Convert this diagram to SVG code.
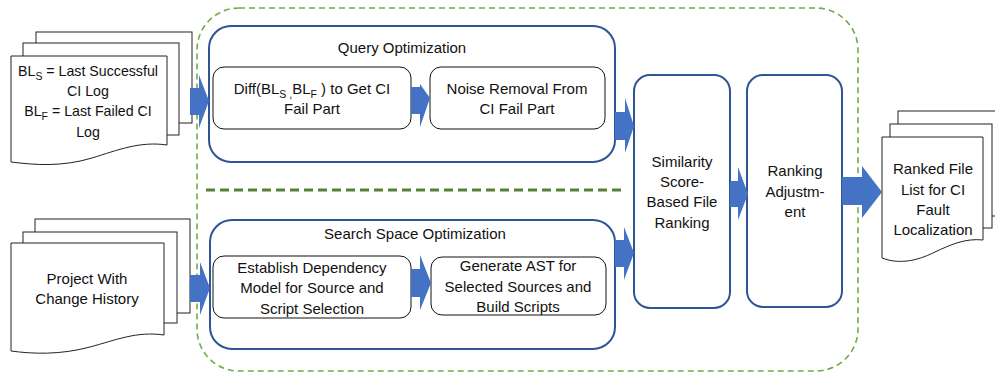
<svg xmlns="http://www.w3.org/2000/svg" width="995" height="375" viewBox="0 0 995 375">
<style>
text{font-family:"Liberation Sans",Arial,sans-serif;font-size:15px;fill:#111;text-anchor:middle}
.page{fill:#fff;stroke:#222;stroke-width:1}
.big{fill:#fff;stroke:#2F5597;stroke-width:2}
.inner{fill:#fff;stroke:#111;stroke-width:1}
.arr{fill:#4472C4}
.sub{font-size:10.5px}
.tight{font-size:14.2px}
</style>
<rect width="995" height="375" fill="#fff"/>
<g id="outer-group">
<rect x="197" y="8" width="661" height="363" rx="42" fill="none" stroke="#70AD47" stroke-width="1.6" stroke-dasharray="6,4"/>
<line x1="206" y1="190" x2="626" y2="190" stroke="#548235" stroke-width="3" stroke-dasharray="9,5"/>
</g>
<g id="input-log">
<rect class="page" x="36" y="32" width="156" height="91"/>
<rect class="page" x="23" y="43" width="156" height="92"/>
<path class="page" d="M11,56 H167 V145 C140,141 118,150 92,158 C62,167 35,165 11,162 Z"/>
<text class="tight" x="88" y="76">BL<tspan class="sub" dy="4">S</tspan><tspan dy="-4"> = Last Successful</tspan></text>
<text class="tight" x="88" y="96">CI Log</text>
<text class="tight" x="88" y="116">BL<tspan class="sub" dy="4">F</tspan><tspan dy="-4"> = Last Failed CI</tspan></text>
<text class="tight" x="88" y="137">Log</text>
</g>
<g id="input-project">
<rect class="page" x="35" y="219" width="155" height="94"/>
<rect class="page" x="23" y="232" width="154" height="91"/>
<path class="page" d="M11,243 H164 V335 C137,331 116,340 90,347 C60,355 33,354 11,351 Z"/>
<text x="87" y="284">Project With</text>
<text x="87" y="304">Change History</text>
</g>
<g id="query-opt">
<rect class="big" x="209" y="26" width="406" height="136" rx="22"/>
<text x="402" y="53">Query Optimization</text>
</g>
<g id="diff">
<rect class="inner" x="213" y="67" width="198" height="62" rx="11"/>
<text x="312" y="94">Diff(BL<tspan class="sub" dy="4">S ,</tspan><tspan dy="-4">BL</tspan><tspan class="sub" dy="4">F</tspan><tspan dy="-4"> ) to Get CI</tspan></text>
<text x="312" y="114">Fail Part</text>
</g>
<g id="noise">
<rect class="inner" x="430" y="67" width="175" height="62" rx="11"/>
<text x="517" y="94">Noise Removal From</text>
<text x="517" y="114">CI Fail Part</text>
</g>
<g id="search-opt">
<rect class="big" x="210" y="220" width="405" height="129" rx="22"/>
<text x="415" y="239">Search Space Optimization</text>
</g>
<g id="dependency">
<rect class="inner" x="213" y="256" width="198" height="62" rx="11"/>
<text x="312" y="273">Establish Dependency</text>
<text x="312" y="293">Model for Source and</text>
<text x="312" y="314">Script Selection</text>
</g>
<g id="ast">
<rect class="inner" x="431" y="257" width="175" height="58" rx="11"/>
<text x="518" y="271">Generate AST for</text>
<text x="518" y="292">Selected Sources and</text>
<text x="518" y="312">Build Scripts</text>
</g>
<g id="similarity">
<rect class="big" x="634" y="75" width="96" height="233" rx="16"/>
<text x="682" y="167">Similarity</text>
<text x="682" y="187">Score-</text>
<text x="682" y="207">Based File</text>
<text x="682" y="228">Ranking</text>
</g>
<g id="adjust">
<rect class="big" x="747" y="75" width="95" height="232" rx="16"/>
<text x="795" y="176">Ranking</text>
<text x="795" y="197">Adjustm-</text>
<text x="795" y="217">ent</text>
</g>
<g id="output">
<rect class="page" x="898" y="111" width="110" height="105"/>
<rect class="page" x="890" y="124" width="102" height="104"/>
<path class="page" d="M882,137 H983 V240 C965,238 950,245 935,252 C915,262 898,264 882,258 Z"/>
<text x="933" y="174">Ranked File</text>
<text x="933" y="195">List for CI</text>
<text x="933" y="215">Fault</text>
<text x="933" y="235">Localization</text>
</g>
<g id="connectors">
<path class="arr" d="M190,88 H199 V75 L209,101 L199,128 V115 H190 Z"/>
<path class="arr" d="M190,275 H200 V262 L210,288 L200,315 V302 H190 Z"/>
<path class="arr" d="M411,87 H420 V84 L430,98 L420,127 V114 H411 Z"/>
<path class="arr" d="M411,269 H420 V255 L431,283 L420,310 V297 H411 Z"/>
<path class="arr" d="M615,112 H625 V98 L634,126 L625,153 V140 H615 Z"/>
<path class="arr" d="M615,240 H624 V227 L634,253 L624,280 V267 H615 Z"/>
<path class="arr" d="M730,181 H738 V167 L748,194 L738,220 V207 H730 Z"/>
<path class="arr" d="M842,177 H862 V166 L882,192 L862,218 V205 H842 Z"/>
</g>
</svg>
